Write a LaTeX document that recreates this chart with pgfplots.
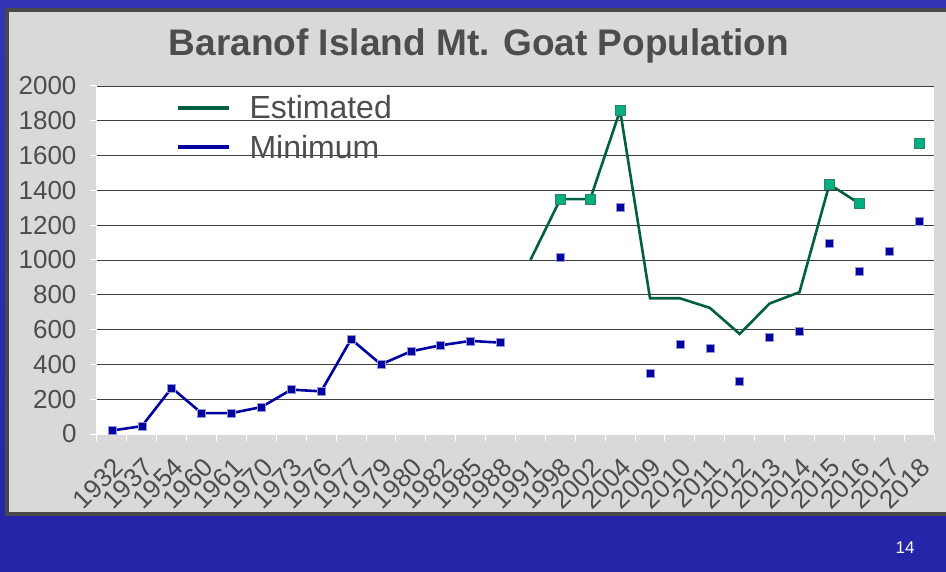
\documentclass[border=0pt]{standalone}
\usepackage{fontspec}
\setmainfont{Liberation Sans}
\usepackage{pgfplots}
\usepackage{pgfplotstable}
\pgfplotsset{compat=1.18}

\definecolor{slideblue}{RGB}{36,36,168}
\definecolor{slidelight}{RGB}{52,52,182}
\definecolor{panelgray}{RGB}{217,217,217}
\definecolor{paneledge}{RGB}{72,72,72}
\definecolor{txtgray}{RGB}{77,77,77}
\definecolor{gridgray}{RGB}{64,64,64}
\definecolor{estgreen}{RGB}{0,96,64}
\definecolor{estfill}{RGB}{0,176,128}
\definecolor{minblue}{RGB}{0,0,160}
\definecolor{minedge}{RGB}{150,150,215}

% x = category index (1932 = 0 ... 2018 = 27)
\pgfplotstableread{
x y
0 20
1 45
2 265
3 120
4 120
5 155
6 255
7 245
8 545
9 400
10 475
11 510
12 535
13 525
}\minline

\pgfplotstableread{
x y
15 1015
17 1300
18 350
19 515
20 495
21 305
22 555
23 590
24 1095
25 935
26 1050
27 1225
}\minpts

\pgfplotstableread{
x y
14 1000
15 1350
16 1350
17 1860
18 780
19 780
20 725
21 575
22 750
23 815
24 1435
25 1325
}\estline

\pgfplotstableread{
x y
15 1350
16 1350
17 1860
24 1435
25 1325
27 1670
}\estpts

\begin{document}
\begin{tikzpicture}[x=1pt,y=1pt]
\shade[top color=slidelight, bottom color=slideblue] (0,0) rectangle (946,571);
\fill[panelgray, draw=paneledge, line width=4pt] (7,57.5) rectangle (952,561);

\begin{axis}[
  at={(97pt,137pt)}, anchor=south west,
  width=837pt, height=348pt, scale only axis,
  xmin=-0.5, xmax=27.5, ymin=0, ymax=2000,
  axis background/.style={fill=white},
  axis x line*=bottom, axis y line*=left,
  axis line style={white, line width=1pt, -},
  ytick={0,200,...,2000},
  ymajorgrids, major grid style={draw=gridgray, line width=0.9pt},
  tick align=outside, major tick length=7pt, minor tick length=7pt,
  major tick style={white, line width=1pt},
  xtick={0,...,27},
  xticklabels={1932,1937,1954,1960,1961,1970,1973,1976,1977,1979,1980,1982,1985,1988,1991,1998,2002,2004,2009,2010,2011,2012,2013,2014,2015,2016,2017,2018},
  major x tick style={draw=none},
  minor xtick={-0.5,0.5,...,27.5},
  minor x tick style={white, line width=1pt},
  tick label style={font=\fontsize{26}{30}\selectfont, text=txtgray},
  xticklabel style={rotate=45, anchor=north east, inner sep=1pt},
  xticklabel shift=14pt,
  yticklabel shift=10pt,
  /pgf/number format/assume math mode=true,
  /pgf/number format/1000 sep={},
  legend style={draw=none, fill=none, at={(0.09,0.982)}, anchor=north west,
    font=\fontsize{32}{34}\selectfont, text=txtgray, row sep=13pt,
    nodes={inner sep=1pt}},
  legend cell align=left,
  legend image code/.code={\draw[#1, line width=4pt] (0pt,0pt) -- (51pt,0pt);},
  clip=false,
]
\addlegendimage{estgreen}
\addlegendentry{\hspace{18pt}Estimated}
\addlegendimage{minblue}
\addlegendentry{\hspace{18pt}Minimum}

\addplot[forget plot, estgreen, line width=2.6pt, no marks] table {\estline};
\addplot[forget plot, minblue, line width=2.6pt, mark=square*,
  mark size=4pt, mark options={fill=minblue, draw=minedge, line width=0.6pt}] table {\minline};
\addplot[forget plot, only marks, mark=square*, mark size=4pt,
  mark options={fill=minblue, draw=minedge, line width=0.6pt}] table {\minpts};
\addplot[forget plot, only marks, mark=square*, mark size=5pt,
  mark options={fill=estfill, draw=estgreen!80, line width=0.8pt}] table {\estpts};
\end{axis}

\node[font=\fontsize{37}{42}\selectfont\bfseries, text=txtgray, anchor=base] at (479,515) {Baranof Island Mt. Goat Population};
\node[font=\fontsize{17}{20}\selectfont, text=white] at (905,23) {14};

\pgfresetboundingbox
\path (0,0) rectangle (946,571);
\end{tikzpicture}
\end{document}
